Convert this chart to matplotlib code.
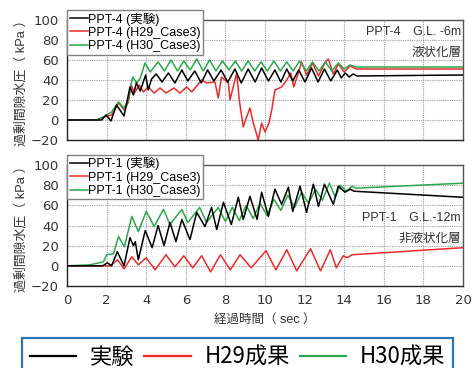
#!/usr/bin/env python3
# -*- coding: utf-8 -*-
"""
Excess pore water pressure time histories, PPT-4 and PPT-1.
"""

import matplotlib
matplotlib.use('Agg')
import matplotlib.pyplot
from matplotlib.lines import Line2D

# PPT-4 (G.L. -6m)
p4_exp_t = [0, 1.75, 1.97, 2.22, 2.5, 2.88, 3.18, 3.35, 3.5, 3.7,
            3.97, 4.1, 4.27, 4.5, 4.8, 5.12, 5.45, 5.8, 6.1, 6.45,
            6.78, 7.1, 7.42, 7.78, 8.12, 8.48, 8.8, 9.15, 9.5, 9.83,
            10.17, 10.5, 10.8, 11.1, 11.4, 11.7, 12.02, 12.35, 12.68, 13.0,
            13.32, 13.65, 13.85, 14.05, 14.25, 14.45, 14.65, 20]
p4_exp_v = [0, 0, 5, -1, 15, 4, 33, 25, 37, 29,
            45, 30, 41, 46, 38, 47, 37, 50, 39, 49,
            37, 50, 39, 50, 38, 51, 37, 51, 38, 52,
            39, 50, 38, 51, 39, 50, 38, 52, 38, 51,
            39, 50, 42, 47, 43, 46, 44, 45]

p4_h29_t = [0, 1.5, 1.84, 2.25, 2.6, 2.9, 3.1, 3.24, 3.4, 3.65,
            3.85, 4.1, 4.4, 4.7, 5.0, 5.4, 5.7, 6.05, 6.3, 6.8,
            7.05, 7.47, 7.64, 7.8, 8.15, 8.23, 8.57, 8.7, 8.9, 9.07,
            9.24, 9.41, 9.66, 9.83, 10.0, 10.2, 10.34, 10.5, 10.84, 11.1,
            11.3, 11.45, 11.7, 11.85, 12.1, 12.4, 12.7, 13.05, 13.2, 13.45,
            13.7, 14.0, 14.3, 14.6, 20]
p4_h29_v = [0, 0, 3, 5, 17, 10, 18, 35, 27, 35,
            28, 33, 27, 32, 27, 32, 27, 33, 28, 40,
            37, 38, 22, 43, 37, 20, 47, 20, -7, 3,
            12, -3, -20, -3, -12, -3, 10, 30, 33, 40,
            47, 33, 48, 58, 45, 57, 44, 58, 61, 46,
            56, 48, 54, 51, 51]

p4_h30_t = [0, 1.5, 1.84, 2.25, 2.6, 2.88, 3.1, 3.2, 3.32, 3.52,
            3.7, 3.94, 4.2, 4.6, 4.92, 5.25, 5.58, 5.9, 6.22, 6.55,
            6.88, 7.2, 7.52, 7.85, 8.18, 8.5, 8.82, 9.15, 9.48, 9.8,
            10.12, 10.45, 10.78, 11.1, 11.42, 11.75, 12.08, 12.4, 12.72, 13.05,
            13.38, 13.7, 14.0, 14.3, 14.6, 20]
p4_h30_v = [0, 0, 3, 8, 18, 12, 20, 33, 43, 37,
            42, 57, 48, 58, 49, 60, 49, 59, 50, 61,
            49, 60, 49, 59, 50, 59, 49, 59, 49, 58,
            49, 59, 49, 58, 49, 59, 49, 58, 49, 58,
            49, 57, 51, 55, 53, 53]

# PPT-1 (G.L. -12m)
p1_exp_t = [0, 1.8, 2.04, 2.25, 2.54, 2.88, 3.18, 3.35, 3.45, 3.6,
            3.95, 4.3, 4.6, 4.9, 5.2, 5.5, 5.8, 6.21, 6.55, 6.97,
            7.3, 7.56, 7.9, 8.3, 8.65, 8.9, 9.24, 9.6, 9.83, 10.17,
            10.5, 10.84, 11.18, 11.4, 11.77, 12.1, 12.44, 12.7, 13.0, 13.45,
            13.7, 14.04, 14.3, 14.5, 20]
p1_exp_v = [0, 0, 3, 0, 14, 0, 28, 20, 24, 6,
            35, 18, 40, 20, 43, 24, 46, 26, 53, 39,
            58, 36, 63, 41, 68, 46, 69, 46, 73, 49,
            76, 61, 78, 54, 79, 53, 81, 59, 81, 61,
            79, 73, 76, 74, 68]

p1_h29_t = [0, 2.2, 2.55, 2.88, 3.27, 3.6, 4.0, 4.45, 5.0, 5.45,
            5.9, 6.35, 6.8, 7.25, 7.75, 8.25, 8.74, 9.3, 10.05, 10.55,
            11.1, 11.6, 12.3, 12.8, 13.3, 13.6, 13.95, 14.15, 14.4, 20]
p1_h29_v = [0, 0, 6, -3, 9, 1, 8, -4, 11, -1,
            10, -2, 10, -6, 11, -4, 11, -2, 15, -4,
            16, -5, 17, -5, 16, -2, 10, 8, 11, 18]

p1_h30_t = [0, 1.16, 1.84, 2.0, 2.35, 2.6, 2.9, 3.27, 3.6, 4.0,
            4.4, 4.87, 5.2, 5.8, 6.1, 6.7, 7.05, 7.64, 8.0, 8.35,
            8.7, 9.05, 9.4, 9.75, 10.1, 10.45, 10.8, 11.15, 11.5, 11.85,
            12.2, 12.55, 12.9, 13.25, 13.55, 13.8, 14.1, 14.4, 14.6, 20]
p1_h30_v = [0, 1, 4, 11, 12, 29, 19, 49, 34, 54,
            39, 56, 41, 56, 43, 58, 43, 58, 44, 58,
            45, 60, 47, 62, 50, 66, 55, 70, 58, 73,
            62, 76, 65, 82, 68, 80, 74, 79, 77, 82]

x_ticks = [0, 2, 4, 6, 8, 10, 12, 14, 16, 18, 20]
y_ticks = [-20, 0, 20, 40, 60, 80, 100]

FONT = ['Liberation Sans', 'Noto Sans CJK JP', 'DejaVu Sans']
BLACK = '#000000'
RED = '#ee2a2a'
GREEN = '#2aa84a'


def setup_axes(axis, show_xlabels):
    axis.set_xlim(0, 20)
    axis.set_ylim(-20, 100)
    axis.set_xticks(x_ticks)
    axis.set_yticks(y_ticks)
    axis.grid(True, color='#a0a0a0', linestyle=(0, (1, 1)), linewidth=0.8)
    axis.tick_params(length=0, labelsize=9.5, colors='#333333', pad=6)
    if not show_xlabels:
        axis.tick_params(labelbottom=False)
    for name, spine in axis.spines.items():
        spine.set_color('#222222' if name in ('left', 'bottom') else '#555555')
        spine.set_linewidth(1.0)
    axis.set_ylabel('過剰間隙水圧（ kPa ）', family=FONT, fontsize=9.3,
                    color='#333333', labelpad=2)


def panel(axis, name, series, note1, note2):
    labels = ['(実験)', '(H29_Case3)', '(H30_Case3)']
    colors = [BLACK, RED, GREEN]
    handles = []
    for (t, v), label, color in zip(series, labels, colors):
        line, = axis.plot(t, v, color=color, linewidth=1.1,
                          label=name + ' ' + label)
        handles.append(line)
    handles[0].set_zorder(3)
    legend = axis.legend(handles=handles, loc='upper left',
                         bbox_to_anchor=(0.0, 1.083), borderaxespad=0,
                         prop={'family': FONT, 'size': 9},
                         handlelength=1.45, handletextpad=0.0,
                         labelspacing=0.1, borderpad=0.2,
                         fancybox=False, framealpha=1.0,
                         edgecolor='#808080')
    legend.get_frame().set_linewidth(1.0)
    legend.set_zorder(5)
    for text, y in (note1, note2):
        axis.text(0.995, y, text, transform=axis.transAxes,
                  ha='right', va='center', family=FONT, fontsize=9,
                  color='#333333')


def main():
    figure = matplotlib.pyplot.figure(figsize=(4.74, 3.68), dpi=100)
    top = figure.add_axes([0.1414, 0.6196, 0.8354, 0.3261])
    bottom = figure.add_axes([0.1414, 0.2228, 0.8354, 0.3288])

    setup_axes(top, False)
    setup_axes(bottom, True)

    panel(top, 'PPT-4',
          [(p4_exp_t, p4_exp_v), (p4_h29_t, p4_h29_v), (p4_h30_t, p4_h30_v)],
          ('PPT-4　G.L. -6m', 0.90), ('液状化層', 0.725))
    panel(bottom, 'PPT-1',
          [(p1_exp_t, p1_exp_v), (p1_h29_t, p1_h29_v), (p1_h30_t, p1_h30_v)],
          ('PPT-1　G.L.-12m', 0.564), ('非液状化層', 0.39))

    bottom.set_xlabel('経過時間（ sec ）', family=FONT, fontsize=9,
                      color='#333333', labelpad=5)

    handles = [Line2D([], [], color=BLACK, linewidth=1.6),
               Line2D([], [], color=RED, linewidth=1.6),
               Line2D([], [], color=GREEN, linewidth=1.6)]
    legend = figure.legend(handles, ['実験', 'H29成果', 'H30成果'],
                           loc='upper left',
                           bbox_to_anchor=(22 / 474, 1 - 338 / 368),
                           ncol=3, borderaxespad=0,
                           prop={'family': ['Noto Sans CJK JP'], 'size': 16},
                           handlelength=2.1, handletextpad=0.6,
                           columnspacing=0.45, borderpad=0.35,
                           fancybox=False, framealpha=1.0,
                           edgecolor='#2e75b6')
    legend.get_frame().set_linewidth(1.6)

    figure.savefig('out.png', dpi=100)
    matplotlib.pyplot.close()


if __name__ == '__main__':
    main()
